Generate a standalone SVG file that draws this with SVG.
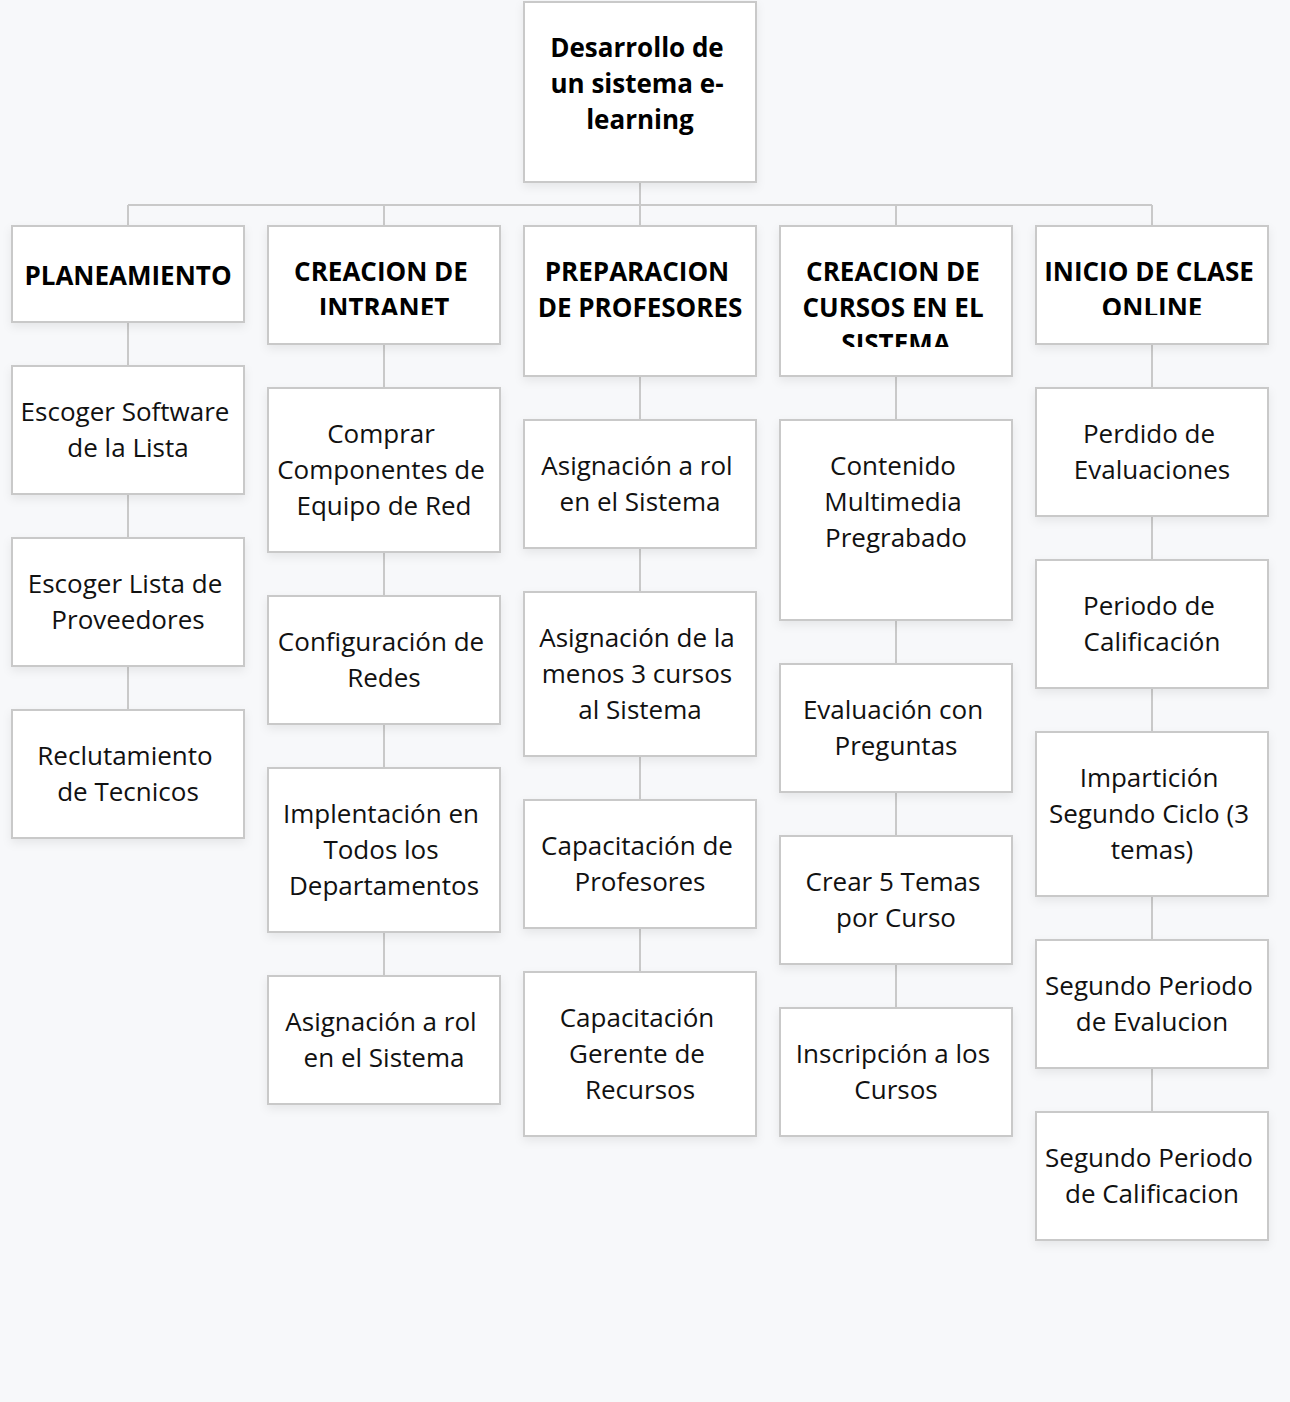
<svg xmlns="http://www.w3.org/2000/svg" width="1290" height="1402" viewBox="0 0 1290 1402">
<style>
.box{fill:#ffffff;stroke:#c9c9c9;stroke-width:2;filter:url(#sh)}
.t{font-family:"Open Sans","Liberation Sans",sans-serif;font-size:26px;fill:#111111;text-anchor:middle}
.b{font-weight:bold;fill:#000000}
.c{stroke:#c9c9c9;stroke-width:2;fill:none}
</style>
<defs>
<filter id="sh" x="-10%" y="-10%" width="120%" height="130%">
<feDropShadow dx="0" dy="4" stdDeviation="5" flood-color="#000" flood-opacity="0.07"/>
</filter>
<clipPath id="clip2"><rect x="267" y="254" width="234" height="61"/></clipPath>
<clipPath id="clip4"><rect x="779" y="254" width="234" height="93"/></clipPath>
<clipPath id="clip5"><rect x="1035" y="254" width="234" height="61"/></clipPath>
</defs>
<rect width="1290" height="1402" fill="#f7f8fa"/>
<g id="connectors">
<path class="c" d="M640 183V205M128 205H1152M128 205V225M384 205V225M640 205V225M896 205V225M1152 205V225"/>
<path class="c" d="M128 323V365M128 495V537M128 667V709"/>
<path class="c" d="M384 345V387M384 553V595M384 725V767M384 933V975"/>
<path class="c" d="M640 377V419M640 549V591M640 757V799M640 929V971"/>
<path class="c" d="M896 377V419M896 621V663M896 793V835M896 965V1007"/>
<path class="c" d="M1152 345V387M1152 517V559M1152 689V731M1152 897V939M1152 1069V1111"/>
</g>
<g id="root"><rect class="box" x="524" y="2" width="232" height="180"/>
<text class="t b" x="637" y="57">Desarrollo de</text><text class="t b" x="637" y="93">un sistema e-</text><text class="t b" x="640" y="129">learning</text></g>

<g id="planeamiento"><rect class="box" x="12" y="226" width="232" height="96"/>
<text class="t b" x="128" y="285">PLANEAMIENTO</text></g>
<g id="p1"><rect class="box" x="12" y="366" width="232" height="128"/>
<text class="t" x="125" y="421">Escoger Software</text><text class="t" x="128" y="457">de la Lista</text></g>
<g id="p2"><rect class="box" x="12" y="538" width="232" height="128"/>
<text class="t" x="125" y="593">Escoger Lista de</text><text class="t" x="128" y="629">Proveedores</text></g>
<g id="p3"><rect class="box" x="12" y="710" width="232" height="128"/>
<text class="t" x="125" y="765">Reclutamiento</text><text class="t" x="128" y="801">de Tecnicos</text></g>

<g id="intranet"><rect class="box" x="268" y="226" width="232" height="118"/>
<g clip-path="url(#clip2)"><text class="t b" x="381" y="281">CREACION DE</text><text class="t b" x="384" y="317">INTRANET</text></g></g>
<g id="i1"><rect class="box" x="268" y="388" width="232" height="164"/>
<text class="t" x="381" y="443">Comprar</text><text class="t" x="381" y="479">Componentes de</text><text class="t" x="384" y="515">Equipo de Red</text></g>
<g id="i2"><rect class="box" x="268" y="596" width="232" height="128"/>
<text class="t" x="381" y="651">Configuración de</text><text class="t" x="384" y="687">Redes</text></g>
<g id="i3"><rect class="box" x="268" y="768" width="232" height="164"/>
<text class="t" x="381" y="823">Implentación en</text><text class="t" x="381" y="859">Todos los</text><text class="t" x="384" y="895">Departamentos</text></g>
<g id="i4"><rect class="box" x="268" y="976" width="232" height="128"/>
<text class="t" x="381" y="1031">Asignación a rol</text><text class="t" x="384" y="1067">en el Sistema</text></g>

<g id="profesores"><rect class="box" x="524" y="226" width="232" height="150"/>
<text class="t b" x="637" y="281">PREPARACION</text><text class="t b" x="640" y="317">DE PROFESORES</text></g>
<g id="f1"><rect class="box" x="524" y="420" width="232" height="128"/>
<text class="t" x="637" y="475">Asignación a rol</text><text class="t" x="640" y="511">en el Sistema</text></g>
<g id="f2"><rect class="box" x="524" y="592" width="232" height="164"/>
<text class="t" x="637" y="647">Asignación de la</text><text class="t" x="637" y="683">menos 3 cursos</text><text class="t" x="640" y="719">al Sistema</text></g>
<g id="f3"><rect class="box" x="524" y="800" width="232" height="128"/>
<text class="t" x="637" y="855">Capacitación de</text><text class="t" x="640" y="891">Profesores</text></g>
<g id="f4"><rect class="box" x="524" y="972" width="232" height="164"/>
<text class="t" x="637" y="1027">Capacitación</text><text class="t" x="637" y="1063">Gerente de</text><text class="t" x="640" y="1099">Recursos</text></g>

<g id="cursos"><rect class="box" x="780" y="226" width="232" height="150"/>
<g clip-path="url(#clip4)"><text class="t b" x="893" y="281">CREACION DE</text><text class="t b" x="893" y="317">CURSOS EN EL</text><text class="t b" x="896" y="353">SISTEMA</text></g></g>
<g id="c1"><rect class="box" x="780" y="420" width="232" height="200"/>
<text class="t" x="893" y="475">Contenido</text><text class="t" x="893" y="511">Multimedia</text><text class="t" x="896" y="547">Pregrabado</text></g>
<g id="c2"><rect class="box" x="780" y="664" width="232" height="128"/>
<text class="t" x="893" y="719">Evaluación con</text><text class="t" x="896" y="755">Preguntas</text></g>
<g id="c3"><rect class="box" x="780" y="836" width="232" height="128"/>
<text class="t" x="893" y="891">Crear 5 Temas</text><text class="t" x="896" y="927">por Curso</text></g>
<g id="c4"><rect class="box" x="780" y="1008" width="232" height="128"/>
<text class="t" x="893" y="1063">Inscripción a los</text><text class="t" x="896" y="1099">Cursos</text></g>

<g id="online"><rect class="box" x="1036" y="226" width="232" height="118"/>
<g clip-path="url(#clip5)"><text class="t b" x="1149" y="281">INICIO DE CLASE</text><text class="t b" x="1152" y="317">ONLINE</text></g></g>
<g id="o1"><rect class="box" x="1036" y="388" width="232" height="128"/>
<text class="t" x="1149" y="443">Perdido de</text><text class="t" x="1152" y="479">Evaluaciones</text></g>
<g id="o2"><rect class="box" x="1036" y="560" width="232" height="128"/>
<text class="t" x="1149" y="615">Periodo de</text><text class="t" x="1152" y="651">Calificación</text></g>
<g id="o3"><rect class="box" x="1036" y="732" width="232" height="164"/>
<text class="t" x="1149" y="787">Impartición</text><text class="t" x="1149" y="823">Segundo Ciclo (3</text><text class="t" x="1152" y="859">temas)</text></g>
<g id="o4"><rect class="box" x="1036" y="940" width="232" height="128"/>
<text class="t" x="1149" y="995">Segundo Periodo</text><text class="t" x="1152" y="1031">de Evalucion</text></g>
<g id="o5"><rect class="box" x="1036" y="1112" width="232" height="128"/>
<text class="t" x="1149" y="1167">Segundo Periodo</text><text class="t" x="1152" y="1203">de Calificacion</text></g>
</svg>
